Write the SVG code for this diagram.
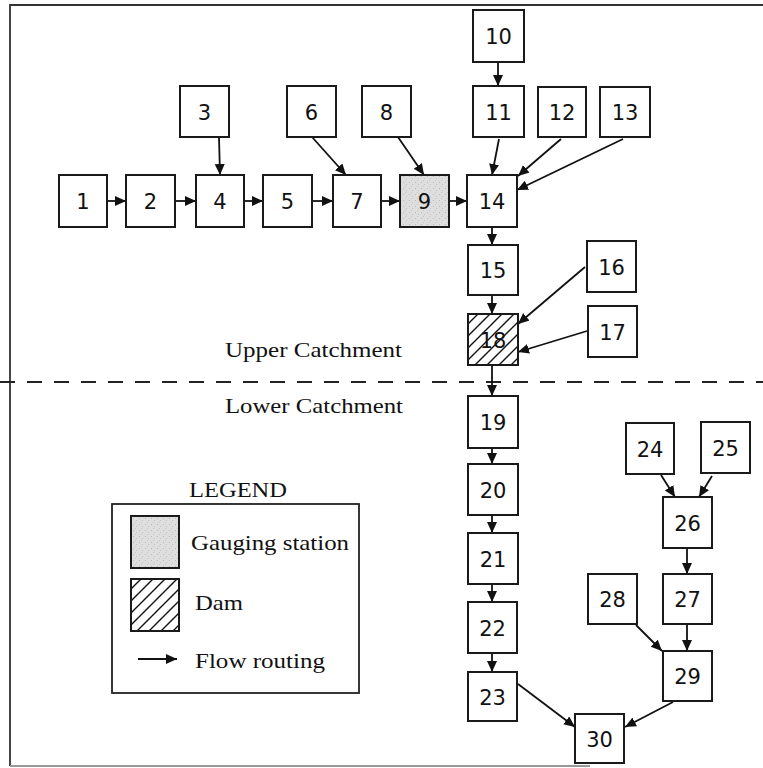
<svg xmlns="http://www.w3.org/2000/svg" width="763" height="768" viewBox="0 0 763 768">
<style>
.box{fill:#fff;stroke:#1a1a1a;stroke-width:2}
.dam{fill:url(#hatch);stroke:#1a1a1a;stroke-width:2}
.num{font-family:"DejaVu Sans",Verdana,sans-serif;font-size:21px;fill:#111;text-anchor:middle}
.lbl{font-family:"Liberation Serif","Times New Roman",serif;font-size:22px;fill:#111}
.flow{stroke:#111;stroke-width:1.8;fill:none;marker-end:url(#ah)}
.frame{stroke:#333;stroke-width:1.8;fill:none}
</style>
<defs>
<marker id="ah" markerUnits="userSpaceOnUse" markerWidth="12" markerHeight="11" refX="11" refY="5" orient="auto">
<path d="M0,0 L11,5 L0,10 z" fill="#111"/>
</marker>
<pattern id="hatch" patternUnits="userSpaceOnUse" width="12" height="12">
<rect width="12" height="12" fill="#fff"/>
<path d="M0,12 L12,0 M-3,3 L3,-3 M9,15 L15,9" stroke="#111" stroke-width="1.4"/>
</pattern>
<pattern id="stipple" patternUnits="userSpaceOnUse" width="6" height="6">
<rect width="6" height="6" fill="#dedede"/>
<rect x="1" y="2" width="1" height="1" fill="#bbb"/>
<rect x="4" y="4" width="1" height="1" fill="#c4c4c4"/>
<rect x="3" y="0" width="1" height="1" fill="#c8c8c8"/>
</pattern>
</defs>

<g id="frame">
<path class="frame" d="M10,766 L10,5 L763,5"/>
<path d="M10,766 L590,766" stroke="#999" stroke-width="1.8" fill="none"/>
</g>

<g id="divider">
<line x1="0" y1="382" x2="763" y2="382" stroke="#222" stroke-width="1.8" stroke-dasharray="15 12"/>
<text class="lbl" x="225" y="357" textLength="177" lengthAdjust="spacingAndGlyphs">Upper Catchment</text>
<text class="lbl" x="225" y="413" textLength="178" lengthAdjust="spacingAndGlyphs">Lower Catchment</text>
</g>

<g id="connectors">
<line class="flow" x1="107" y1="201" x2="126" y2="201"/>
<line class="flow" x1="175" y1="201" x2="196" y2="201"/>
<line class="flow" x1="244" y1="201" x2="263" y2="201"/>
<line class="flow" x1="312" y1="201" x2="333" y2="201"/>
<line class="flow" x1="381" y1="201" x2="400" y2="201"/>
<line class="flow" x1="449" y1="201" x2="467" y2="201"/>
<line class="flow" x1="219" y1="137" x2="220" y2="175"/>
<line class="flow" x1="312" y1="137" x2="346" y2="175"/>
<line class="flow" x1="398" y1="137" x2="424" y2="175"/>
<line class="flow" x1="498" y1="62" x2="498" y2="86"/>
<line class="flow" x1="499" y1="139" x2="492" y2="175"/>
<line class="flow" x1="561" y1="139" x2="518" y2="176"/>
<line class="flow" x1="623" y1="139" x2="517" y2="190"/>
<line class="flow" x1="492" y1="227" x2="492" y2="245"/>
<line class="flow" x1="492" y1="295" x2="492" y2="314"/>
<line class="flow" x1="585" y1="267" x2="518" y2="324"/>
<line class="flow" x1="587" y1="331" x2="518" y2="352"/>
<line class="flow" x1="492" y1="365" x2="492" y2="396"/>
<line class="flow" x1="492" y1="448" x2="492" y2="464"/>
<line class="flow" x1="492" y1="515" x2="492" y2="533"/>
<line class="flow" x1="492" y1="584" x2="492" y2="602"/>
<line class="flow" x1="492" y1="653" x2="492" y2="672"/>
<line class="flow" x1="661" y1="475" x2="675" y2="497"/>
<line class="flow" x1="712" y1="476" x2="699" y2="497"/>
<line class="flow" x1="687" y1="548" x2="687" y2="574"/>
<line class="flow" x1="687" y1="624" x2="687" y2="651"/>
<line class="flow" x1="636" y1="625" x2="662" y2="651"/>
<line class="flow" x1="518" y1="684" x2="575" y2="727"/>
<line class="flow" x1="673" y1="702" x2="625" y2="727"/>
</g>

<g id="n1"><rect class="box" x="59" y="175" width="48" height="52"/><text class="num" x="83" y="209">1</text></g>
<g id="n2"><rect class="box" x="126" y="175" width="49" height="52"/><text class="num" x="150.5" y="209">2</text></g>
<g id="n3"><rect class="box" x="180" y="86" width="49" height="51"/><text class="num" x="204.5" y="119.5">3</text></g>
<g id="n4"><rect class="box" x="196" y="175" width="48" height="52"/><text class="num" x="220" y="209">4</text></g>
<g id="n5"><rect class="box" x="263" y="175" width="49" height="52"/><text class="num" x="287.5" y="209">5</text></g>
<g id="n6"><rect class="box" x="287" y="86" width="49" height="51"/><text class="num" x="311.5" y="119.5">6</text></g>
<g id="n7"><rect class="box" x="333" y="175" width="48" height="52"/><text class="num" x="357" y="209">7</text></g>
<g id="n8"><rect class="box" x="362" y="86" width="49" height="51"/><text class="num" x="386.5" y="119.5">8</text></g>
<g id="n9"><rect class="box" x="400" y="175" width="49" height="52" style="fill:url(#stipple)"/><text class="num" x="424.5" y="209">9</text></g>
<g id="n10"><rect class="box" x="473" y="10" width="51" height="52"/><text class="num" x="498.5" y="44">10</text></g>
<g id="n11"><rect class="box" x="473" y="86" width="51" height="51"/><text class="num" x="498.5" y="119.5">11</text></g>
<g id="n12"><rect class="box" x="538" y="87" width="48" height="50"/><text class="num" x="562" y="120">12</text></g>
<g id="n13"><rect class="box" x="600" y="87" width="50" height="50"/><text class="num" x="625" y="120">13</text></g>
<g id="n14"><rect class="box" x="467" y="175" width="50" height="52"/><text class="num" x="492" y="209">14</text></g>
<g id="n15"><rect class="box" x="468" y="245" width="50" height="50"/><text class="num" x="493" y="278">15</text></g>
<g id="n16"><rect class="box" x="587" y="241" width="49" height="51"/><text class="num" x="611.5" y="274.5">16</text></g>
<g id="n17"><rect class="box" x="588" y="306" width="49" height="51"/><text class="num" x="612.5" y="339.5">17</text></g>
<g id="n18"><rect class="dam" x="468" y="314" width="50" height="51"/><text class="num" x="493" y="347.5">18</text></g>
<g id="n19"><rect class="box" x="468" y="396" width="50" height="52"/><text class="num" x="493" y="430">19</text></g>
<g id="n20"><rect class="box" x="468" y="464" width="50" height="51"/><text class="num" x="493" y="497.5">20</text></g>
<g id="n21"><rect class="box" x="468" y="533" width="50" height="51"/><text class="num" x="493" y="566.5">21</text></g>
<g id="n22"><rect class="box" x="468" y="602" width="49" height="51"/><text class="num" x="492.5" y="635.5">22</text></g>
<g id="n23"><rect class="box" x="468" y="672" width="49" height="49"/><text class="num" x="492.5" y="704.5">23</text></g>
<g id="n24"><rect class="box" x="626" y="423" width="48" height="51"/><text class="num" x="650" y="456.5">24</text></g>
<g id="n25"><rect class="box" x="701" y="422" width="49" height="51"/><text class="num" x="725.5" y="455.5">25</text></g>
<g id="n26"><rect class="box" x="663" y="497" width="49" height="51"/><text class="num" x="687.5" y="530.5">26</text></g>
<g id="n27"><rect class="box" x="663" y="574" width="49" height="50"/><text class="num" x="687.5" y="607">27</text></g>
<g id="n28"><rect class="box" x="588" y="574" width="49" height="50"/><text class="num" x="612.5" y="607">28</text></g>
<g id="n29"><rect class="box" x="663" y="651" width="49" height="50"/><text class="num" x="687.5" y="684">29</text></g>
<g id="n30"><rect class="box" x="575" y="714" width="49" height="49"/><text class="num" x="599.5" y="746.5">30</text></g>

<g id="legend">
<text class="lbl" x="189" y="497" textLength="98" lengthAdjust="spacingAndGlyphs">LEGEND</text>
<rect x="112" y="504" width="247" height="189" fill="none" stroke="#222" stroke-width="1.8"/>
<rect class="box" x="131" y="516" width="48" height="52" style="fill:url(#stipple)"/>
<text class="lbl" x="191" y="550" textLength="158" lengthAdjust="spacingAndGlyphs">Gauging station</text>
<rect class="dam" x="131" y="579" width="48" height="52"/>
<text class="lbl" x="195" y="610" textLength="48" lengthAdjust="spacingAndGlyphs">Dam</text>
<line class="flow" x1="138" y1="659" x2="177" y2="659"/>
<text class="lbl" x="195" y="668" textLength="130" lengthAdjust="spacingAndGlyphs">Flow routing</text>
</g>
</svg>
